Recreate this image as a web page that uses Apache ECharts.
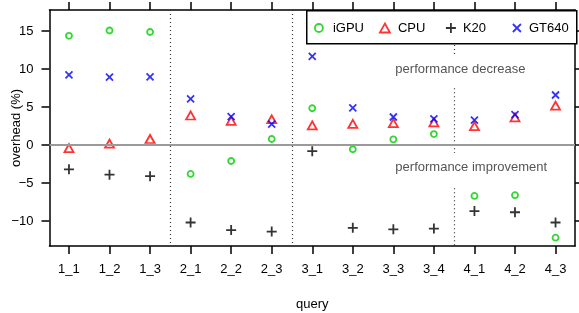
<!DOCTYPE html>
<html>
<head>
<meta charset="utf-8">
<script src="https://cdn.jsdelivr.net/npm/echarts@6/dist/echarts.min.js"></script>
<style>
html,body{margin:0;padding:0;background:#fff;}
#chart{width:579px;height:313px;}
</style>
</head>
<body>
<div id="chart"></div>
<script>
// ---- data ----
const categories = ['1_1','1_2','1_3','2_1','2_2','2_3','3_1','3_2','3_3','3_4','4_1','4_2','4_3'];
const iGPU  = [14.4, 15.1, 14.9, -3.8, -2.1, 0.8, 4.85, -0.55, 0.75, 1.45, -6.7, -6.6, -12.2];
const CPU   = [-0.4, 0.2, 0.8, 3.9, 3.2, 3.4, 2.6, 2.8, 2.9, 3.0, 2.5, 3.65, 5.2];
const K20   = [-3.2, -3.9, -4.1, -10.2, -11.2, -11.4, -0.8, -10.9, -11.1, -11.0, -8.7, -8.85, -10.2];
const GT640 = [9.25, 8.95, 9.0, 6.1, 3.75, 2.75, 11.7, 4.9, 3.7, 3.45, 3.3, 4.0, 6.6];
const yTicks = [-10, -5, 0, 5, 10, 15];
const xTicks = [1,2,3,4,5,6,7,8,9,10,11,12,13];
const fullSeparators = [3.5, 6.5];
const brokenSeparatorX = 10.5;
const brokenSegments = [[13.2, 11.9], [7.5, -1.06], [-5.7, -13.3]];
const notes = [
  {text: 'performance decrease', x: 9.05, y: 10},
  {text: 'performance improvement', x: 9.05, y: -3}
];
const xMin = 0.52, xMax = 13.48, yMin = -13.3, yMax = 17.8;

const FONT = '"Liberation Sans", Arial, Helvetica, sans-serif';
const pts = arr => arr.map((v, i) => [i + 1, v]);

const chart = echarts.init(document.getElementById('chart'), null, {renderer: 'canvas'});

const axisLineStyle = {color: '#000', width: 1.5};
const sepStyle = {color: '#333', width: 1.2, type: [1, 3]};

const markLineData = [];
fullSeparators.forEach(x => {
  markLineData.push([{coord: [x, yMax], lineStyle: sepStyle}, {coord: [x, yMin]}]);
});
brokenSegments.forEach(s => {
  markLineData.push([{coord: [brokenSeparatorX, s[0]], lineStyle: sepStyle}, {coord: [brokenSeparatorX, s[1]]}]);
});
markLineData.push({yAxis: 0, lineStyle: {color: '#9a9a9a', width: 2, type: 'solid'}});

function legendFor(name, center, W, H, textStart) {
  const left = center - W / 2;
  return {
    data: [name], left: left, top: 20, padding: 0, orient: 'horizontal',
    itemWidth: W, itemHeight: H, selectedMode: false, z: 6,
    itemStyle: {borderWidth: 1.8},
    textStyle: {fontFamily: FONT, fontSize: 13, color: '#000', lineHeight: 16,
      padding: [0, 0, 0, Math.max(0, textStart - (left + W + 5))]}
  };
}

const option = {
  animation: false,
  backgroundColor: '#fff',
  textStyle: {fontFamily: FONT},
  grid: {left: 49.5, right: 4, top: 10, bottom: 67, containLabel: false, outerBoundsMode: 'none'},
  graphic: [{
    type: 'rect', left: 306, top: 10, z: 5,
    shape: {width: 270, height: 33},
    style: {fill: '#fff', stroke: '#000', lineWidth: 1.5}
  }],
  legend: [
    legendFor('iGPU', 318, 8, 8, 332),
    legendFor('CPU', 384, 10, 9, 397),
    legendFor('K20', 450, 10, 10, 462),
    legendFor('GT640', 516, 8, 8, 528)
  ],
  xAxis: [{
    type: 'value', min: xMin, max: xMax, position: 'bottom',
    axisLine: {show: true, onZero: false, lineStyle: axisLineStyle},
    axisTick: {show: true, length: 8, customValues: xTicks, lineStyle: axisLineStyle},
    axisLabel: {show: true, customValues: xTicks, formatter: v => categories[Math.round(v) - 1],
      margin: 17, fontSize: 13, color: '#000', fontFamily: FONT},
    splitLine: {show: false},
    name: 'query', nameLocation: 'middle', nameGap: 52, nameMoveOverlap: false,
    nameTextStyle: {fontSize: 13, color: '#000', fontFamily: FONT}
  }, {
    type: 'value', min: xMin, max: xMax, position: 'top',
    axisLine: {show: true, onZero: false, lineStyle: axisLineStyle},
    axisTick: {show: true, length: 8, customValues: xTicks, lineStyle: axisLineStyle},
    axisLabel: {show: false},
    splitLine: {show: false}
  }],
  yAxis: [{
    type: 'value', min: yMin, max: yMax, position: 'left',
    axisLine: {show: true, onZero: false, lineStyle: axisLineStyle},
    axisTick: {show: true, length: 8, customValues: yTicks, lineStyle: axisLineStyle},
    axisLabel: {show: true, customValues: yTicks, margin: 16, fontSize: 13, color: '#000', fontFamily: FONT,
      formatter: v => (v < 0 ? '\u2212' + Math.abs(v) : String(v))},
    splitLine: {show: false},
    name: 'overhead (%)', nameLocation: 'middle', nameGap: 27, nameRotate: 90, nameMoveOverlap: false,
    nameTextStyle: {fontSize: 13, color: '#000', fontFamily: FONT}
  }, {
    type: 'value', min: yMin, max: yMax, position: 'right',
    axisLine: {show: true, onZero: false, lineStyle: axisLineStyle},
    axisTick: {show: true, length: 8, customValues: yTicks, lineStyle: axisLineStyle},
    axisLabel: {show: false},
    splitLine: {show: false}
  }],
  series: [
    {
      name: 'guides', type: 'scatter', data: [], z: 1, silent: true,
      markLine: {silent: true, symbol: ['none', 'none'], label: {show: false}, animation: false,
        data: markLineData},
      markPoint: {silent: true, symbol: 'circle', symbolSize: 0, animation: false,
        label: {show: true, position: 'right', distance: 0, color: '#555', fontSize: 13, fontFamily: FONT,
          formatter: p => p.name},
        data: notes.map(n => ({name: n.text, coord: [n.x, n.y]}))}
    },
    {
      name: 'iGPU', type: 'scatter', data: pts(iGPU), z: 3,
      symbol: 'circle', symbolSize: 6,
      itemStyle: {color: 'rgba(0,0,0,0)', borderColor: '#00cd00', borderWidth: 1.8}
    },
    {
      name: 'CPU', type: 'scatter', data: pts(CPU), z: 3,
      symbol: 'triangle', symbolSize: [9, 8],
      itemStyle: {color: 'rgba(0,0,0,0)', borderColor: '#ff0000', borderWidth: 1.8}
    },
    {
      name: 'K20', type: 'scatter', data: pts(K20), z: 3,
      symbol: 'path://M5,0L5,10M0,5L10,5', symbolSize: 10,
      itemStyle: {color: 'rgba(0,0,0,0)', borderColor: '#000000', borderWidth: 1.8}
    },
    {
      name: 'GT640', type: 'scatter', data: pts(GT640), z: 3,
      symbol: 'path://M0,0L10,10M10,0L0,10', symbolSize: 7,
      itemStyle: {color: 'rgba(0,0,0,0)', borderColor: '#0000ff', borderWidth: 1.8}
    }
  ]
};
chart.setOption(option);
</script>
</body>
</html>
